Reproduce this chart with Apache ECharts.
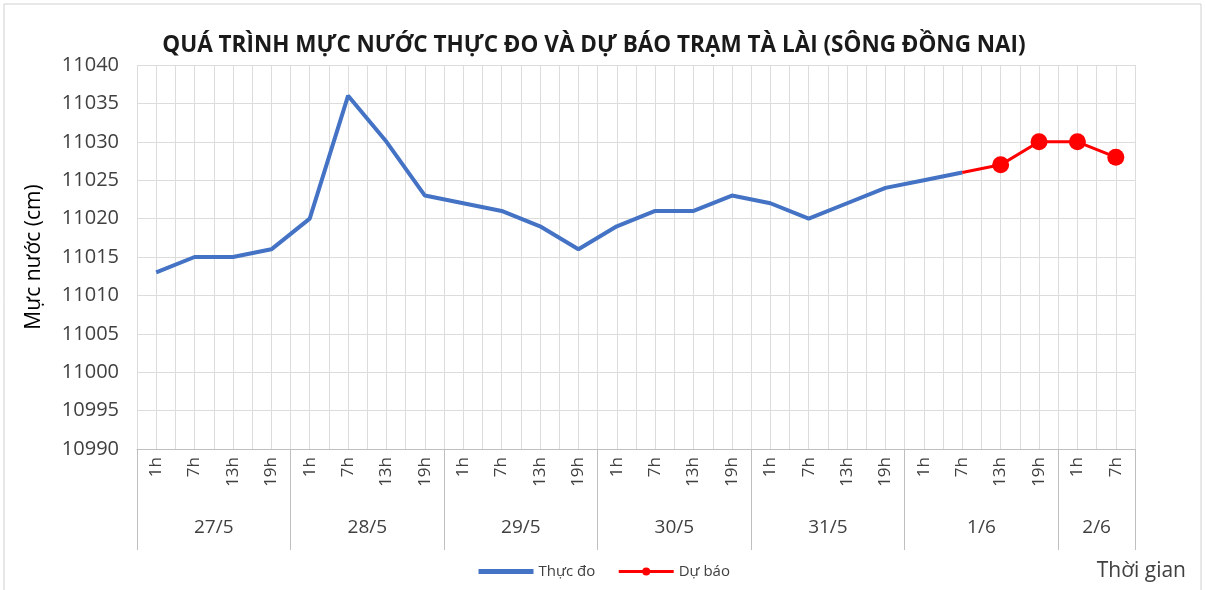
<!DOCTYPE html>
<html>
<head>
<meta charset="utf-8">
<script src="https://cdn.jsdelivr.net/npm/echarts@6/dist/echarts.min.js"></script>
<style>
  html, body { margin: 0; padding: 0; background: #fff; }
  #chart { width: 1206px; height: 590px; }
</style>
</head>
<body>
<div id="chart"></div>
<script>
// gio do trong ngay va nhom theo ngay
const hours = ['1h','7h','13h','19h','1h','7h','13h','19h','1h','7h','13h','19h',
               '1h','7h','13h','19h','1h','7h','13h','19h','1h','7h','13h','19h','1h','7h'];
const days = ['27/5','28/5','29/5','30/5','31/5','1/6','2/6'];
const dayStart = [0, 4, 8, 12, 16, 20, 24, 26];   // ranh gioi cac ngay (theo so moc)

// muc nuoc thuc do (cm)
const measured = [11013, 11015, 11015, 11016, 11020, 11036, 11030, 11023,
                  11022, 11021, 11019, 11016, 11019, 11021, 11021, 11023,
                  11022, 11020, 11022, 11024, 11025, 11026, '-', '-', '-', '-'];
// muc nuoc du bao (cm)
const forecast = ['-', '-', '-', '-', '-', '-', '-', '-', '-', '-', '-', '-', '-',
                  '-', '-', '-', '-', '-', '-', '-', '-', 11026, 11027, 11030, 11030, 11028];
const yTicks = { min: 10990, max: 11040, step: 5 };

const FONT = '"Open Sans", "Noto Sans", sans-serif';
const TXT = '#404040';

const chart = echarts.init(document.getElementById('chart'));

const firstForecast = forecast.findIndex(v => v !== '-');
const forecastData = forecast.map((v, i) => i === firstForecast ? { value: v, symbol: 'none' } : v);
const halfSlots = hours.flatMap(h => [h + 'a', h + 'b']);
const groupCenters = days.map((d, i) => (dayStart[i] + dayStart[i + 1]) / 2);

let option = {
  animation: false,
  textStyle: { fontFamily: FONT },
  title: {
    text: 'QUÁ TRÌNH MỰC NƯỚC THỰC ĐO VÀ DỰ BÁO TRẠM TÀ LÀI (SÔNG ĐỒNG NAI)',
    left: 589, top: 29, textAlign: 'center',
    textStyle: { fontFamily: FONT, fontSize: 22.5, fontWeight: 'bold', color: '#1a1a1a' }
  },
  grid: { left: 137, right: 71, top: 65, bottom: 141 },
  legend: {
    bottom: 6, left: 'center',
    itemWidth: 55, itemHeight: 10, itemGap: 22,
    textStyle: { fontSize: 15, color: TXT },
    data: [
      { name: 'Thực đo', itemStyle: { opacity: 0 }, lineStyle: { width: 5 } },
      { name: 'Dự báo', lineStyle: { width: 3 } }
    ]
  },
  xAxis: [
    {
      type: 'category', data: hours, boundaryGap: true,
      axisLine: { lineStyle: { color: '#bfbfbf' } },
      axisTick: { show: false },
      axisLabel: { rotate: 90, fontSize: 17, color: TXT, margin: 8, interval: 0 },
      splitLine: { show: false }
    },
    {
      // luoi doc phu (giua va ranh gioi moc)
      type: 'category', data: halfSlots, boundaryGap: true,
      axisLine: { show: false }, axisTick: { show: false },
      axisLabel: { show: false },
      splitLine: { show: true, interval: 0, lineStyle: { color: '#dcdcdc' } }
    },
    {
      // nhom theo ngay
      type: 'value', min: 0, max: hours.length, position: 'bottom',
      axisLine: { show: false },
      splitLine: { show: false },
      axisTick: { show: true, customValues: dayStart, length: 101, lineStyle: { color: '#bfbfbf' } },
      axisLabel: {
        customValues: groupCenters, margin: 69, fontSize: 19, color: TXT,
        formatter: v => days[groupCenters.indexOf(v)] || ''
      }
    }
  ],
  yAxis: {
    type: 'value', min: yTicks.min, max: yTicks.max, interval: yTicks.step,
    name: 'Mực nước (cm)', nameLocation: 'middle', nameGap: 92,
    nameTextStyle: { fontSize: 21, color: '#000' },
    axisLine: { show: false }, axisTick: { show: false },
    axisLabel: { fontSize: 20, color: TXT, margin: 18, formatter: v => String(v) },
    splitLine: { lineStyle: { color: '#dcdcdc' } }
  },
  series: [
    {
      name: 'Thực đo', type: 'line', data: measured,
      xAxisIndex: 0, showSymbol: false, symbol: 'none',
      color: '#4472c4',
      lineStyle: { width: 4, color: '#4472c4' }
    },
    {
      name: 'Dự báo', type: 'line', data: forecastData,
      xAxisIndex: 0, symbol: 'circle', symbolSize: 17,
      color: '#ff0000',
      lineStyle: { width: 3, color: '#ff0000' },
      itemStyle: { color: '#ff0000' }
    }
  ],
  graphic: [
    {
      type: 'rect', shape: { x: 4, y: 4, width: 1197, height: 600 },
      style: { fill: 'none', stroke: '#d0d0d0', lineWidth: 1 }, silent: true
    },
    {
      type: 'text', right: 20, top: 561,
      style: { text: 'Thời gian', font: '21px ' + FONT, fill: TXT }
    }
  ]
};

chart.setOption(option);
</script>
</body>
</html>
